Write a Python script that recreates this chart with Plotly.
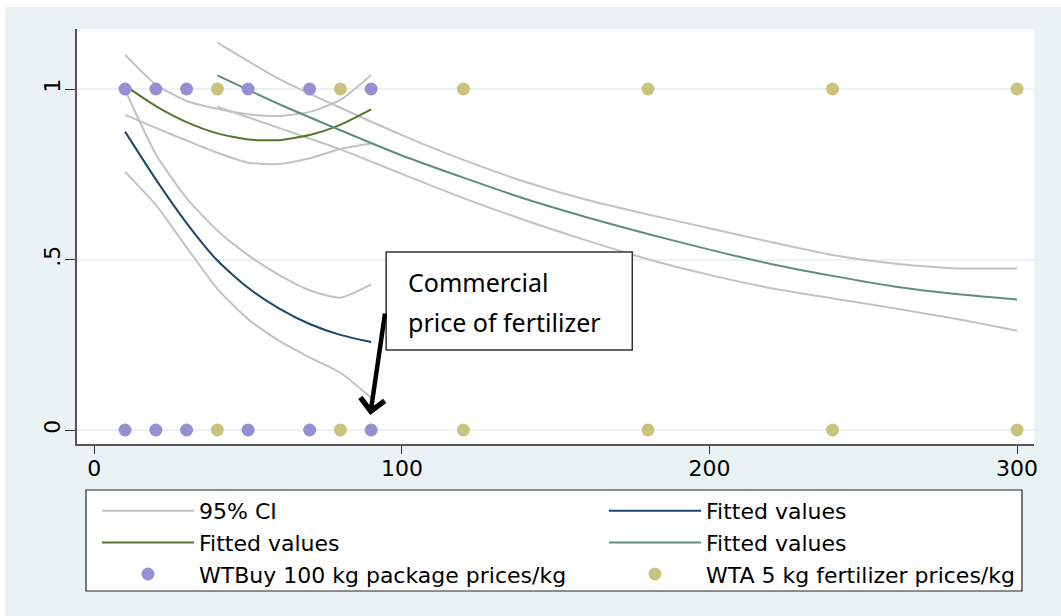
import plotly.graph_objects as go

# ---------------- data ----------------
# observed choices (0/1) by price per kg
wtbuy_price = [10, 20, 30, 50, 70, 90, 10, 20, 30, 50, 70, 90]
wtbuy_choice = [1, 1, 1, 1, 1, 1, 0, 0, 0, 0, 0, 0]
wta_price = [40, 80, 120, 180, 240, 300, 40, 80, 120, 180, 240, 300]
wta_choice = [1, 1, 1, 1, 1, 1, 0, 0, 0, 0, 0, 0]

# fitted values (navy) and 95% CI
navy_x = [10, 20, 30, 40, 50, 60, 70, 80, 90]
navy_fit_y = [0.875, 0.735, 0.607, 0.497, 0.417, 0.357, 0.311, 0.279, 0.258]
navy_hi_y = [0.997, 0.809, 0.680, 0.585, 0.513, 0.455, 0.410, 0.388, 0.427]
navy_lo_y = [0.757, 0.660, 0.536, 0.414, 0.325, 0.262, 0.213, 0.168, 0.095]

# fitted values (green) and 95% CI
green_x = [10, 20, 30, 40, 50, 60, 70, 80, 90]
green_fit_y = [1.010, 0.950, 0.903, 0.870, 0.852, 0.850, 0.865, 0.895, 0.940]
green_hi_y = [1.100, 1.013, 0.965, 0.942, 0.926, 0.921, 0.933, 0.968, 1.041]
green_lo_y = [0.924, 0.886, 0.849, 0.813, 0.784, 0.780, 0.797, 0.824, 0.840]

# fitted values (teal) and 95% CI
teal_x = [40, 60, 80, 100, 120, 140, 160, 180, 200, 220, 240, 260, 280, 300]
teal_fit_y = [1.040, 0.956, 0.879, 0.805, 0.740, 0.678, 0.624, 0.575, 0.529, 0.487, 0.452, 0.421, 0.399, 0.383]
teal_hi_y = [1.136, 1.030, 0.945, 0.865, 0.792, 0.728, 0.675, 0.632, 0.592, 0.551, 0.513, 0.488, 0.474, 0.474]
teal_lo_y = [0.948, 0.886, 0.823, 0.751, 0.680, 0.615, 0.556, 0.501, 0.455, 0.416, 0.386, 0.357, 0.326, 0.291]

x_ticks = [0, 100, 200, 300]
y_ticks = [0, 0.5, 1]
y_ticklabels = ["0", ".5", "1"]

# ---------------- styling ----------------
BG = "#EAF2F3"
GRAY = "#C2C2C2"
NAVY = "#1A476F"
GREEN = "#55752F"
TEAL = "#5E8F7E"
PURPLE = "#958FD3"
KHAKI = "#CBC27E"
FONT = "DejaVu Sans"
LINE = dict(width=2, shape="spline", smoothing=0.6)

ci_x, ci_y = [], []
for xs, ys in [(navy_x, navy_hi_y), (navy_x, navy_lo_y),
               (green_x, green_hi_y), (green_x, green_lo_y),
               (teal_x, teal_hi_y), (teal_x, teal_lo_y)]:
    ci_x += list(xs) + [None]
    ci_y += list(ys) + [None]

fig = go.Figure()
fig.add_trace(go.Scatter(x=ci_x, y=ci_y, mode="lines", name="95% CI",
                         line=dict(color=GRAY, **LINE), legend="legend"))
fig.add_trace(go.Scatter(x=navy_x, y=navy_fit_y, mode="lines", name="Fitted values",
                         line=dict(color=NAVY, **LINE), legend="legend2"))
fig.add_trace(go.Scatter(x=green_x, y=green_fit_y, mode="lines", name="Fitted values",
                         line=dict(color=GREEN, **LINE), legend="legend"))
fig.add_trace(go.Scatter(x=teal_x, y=teal_fit_y, mode="lines", name="Fitted values",
                         line=dict(color=TEAL, **LINE), legend="legend2"))
fig.add_trace(go.Scatter(x=wtbuy_price, y=wtbuy_choice, mode="markers",
                         name="WTBuy 100 kg package prices/kg",
                         marker=dict(color=PURPLE, size=13, symbol="circle"),
                         legend="legend"))
fig.add_trace(go.Scatter(x=wta_price, y=wta_choice, mode="markers",
                         name="WTA 5 kg fertilizer prices/kg",
                         marker=dict(color=KHAKI, size=13, symbol="circle"),
                         legend="legend2"))

W, H = 1061, 616
ML, MR, MT, MB = 77, 27, 29, 172
PW, PH = W - ML - MR, H - MT - MB


def px_x(p):
    return (p - ML) / PW


def px_y(p):
    return (H - MB - p) / PH


legend_common = dict(font=dict(family=FONT, size=22, color="black"),
                     bgcolor="rgba(0,0,0,0)", borderwidth=0, itemwidth=92,
                     orientation="v", xanchor="left", yanchor="top",
                     traceorder="normal", tracegroupgap=0)

shapes = [
    # white outer edge (top / left)
    dict(type="rect", xref="paper", yref="paper", x0=px_x(0), x1=px_x(W), y0=px_y(7), y1=px_y(0),
         fillcolor="white", line=dict(width=0), layer="below"),
    dict(type="rect", xref="paper", yref="paper", x0=px_x(0), x1=px_x(5), y0=px_y(H), y1=px_y(0),
         fillcolor="white", line=dict(width=0), layer="below"),
    # legend frame
    dict(type="rect", xref="paper", yref="paper", x0=px_x(86), x1=px_x(1022), y0=px_y(591), y1=px_y(490),
         fillcolor="white", line=dict(color="#222222", width=1.2), layer="below"),
    # annotation box
    dict(type="rect", xref="x", yref="y", x0=94.87, x1=174.9, y0=0.2346, y1=0.522,
         fillcolor="white", line=dict(color="#333333", width=1.5), layer="above"),
]

annotations = [
    dict(x=101.4, y=0.434, xref="x", yref="y", text="Commercial", showarrow=False,
         xanchor="left", yanchor="middle", font=dict(family="Noto Sans", size=25, color="black")),
    dict(x=101.4, y=0.317, xref="x", yref="y", text="price of fertilizer", showarrow=False,
         xanchor="left", yanchor="middle", font=dict(family="Noto Sans", size=25, color="black")),
    dict(x=89.7, y=0.044, xref="x", yref="y", text="", showarrow=True,
         ax=15, ay=-103, arrowhead=4, arrowwidth=4.5, arrowsize=1.05, arrowcolor="black", standoff=0),
]

fig.update_layout(
    width=W, height=H, autosize=False,
    margin=dict(l=ML, r=MR, t=MT, b=MB, pad=0),
    paper_bgcolor=BG, plot_bgcolor="white",
    showlegend=True,
    legend=dict(x=px_x(97), y=px_y(490), **legend_common),
    legend2=dict(x=px_x(604), y=px_y(490), **legend_common),
    shapes=shapes, annotations=annotations,
    xaxis=dict(range=[-5.63, 305.5], tickvals=x_ticks, ticks="outside", ticklen=8,
               tickwidth=1.3, tickcolor="#333333", showline=True, linecolor="#555555",
               linewidth=1.5, showgrid=False, zeroline=False, ticklabelstandoff=-4,
               tickfont=dict(family=FONT, size=22, color="black")),
    yaxis=dict(range=[-0.041, 1.176], tickvals=y_ticks, ticktext=y_ticklabels,
               tickangle=-90, ticks="outside", ticklen=10, tickwidth=1.3, tickcolor="#333333",
               showline=True, linecolor="#555555", linewidth=1.5, ticklabelstandoff=-4,
               showgrid=True, gridcolor=BG, gridwidth=2, zeroline=False,
               tickfont=dict(family=FONT, size=22, color="black")),
)

fig.write_html("out.html", include_plotlyjs=True, config={"displayModeBar": False},
               post_script="document.body.style.margin='0';")
